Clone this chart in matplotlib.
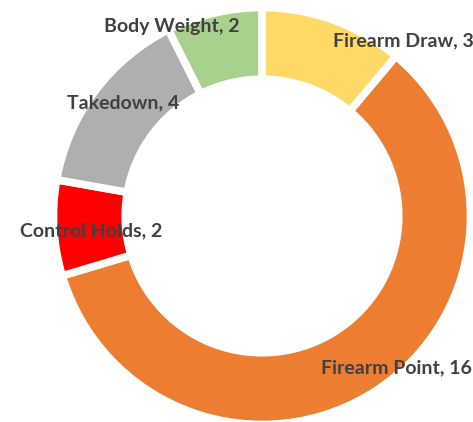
import matplotlib.pyplot as plt

categorias = ['Firearm Draw', 'Firearm Point', 'Control Holds', 'Takedown', 'Body Weight']
valores = [3, 16, 2, 4, 2]
colores = ['#FFD966', '#ED7D31', '#FF0000', '#AFAFAF', '#A9D18E']

# donde va cada etiqueta (coordenadas del eje, radio 1)
pos_etiquetas = [(0.688, 0.854), (0.654, -0.741), (-0.834, -0.073),
                 (-0.678, 0.551), (-0.439, 0.922)]

fig = plt.figure(figsize=(4.73, 4.22), dpi=100)
ax = fig.add_axes([57 / 473, 1 / 422, 410 / 473, 410 / 422])

# el borde blanco se come un poco del anillo, por eso radio algo mayor que 1
ax.pie(valores, colors=colores, startangle=90, counterclock=False, radius=1.017,
       wedgeprops=dict(width=0.35, edgecolor='white', linewidth=5.5))

for cat, val, (x, y) in zip(categorias, valores, pos_etiquetas):
    ax.text(x, y, f'{cat}, {val}', ha='center', va='center', fontsize=14,
            fontweight='bold', color='#404040', family='Lato', clip_on=False)

ax.set_xlim(-1, 1)
ax.set_ylim(-1, 1)
ax.set_aspect('auto')
ax.axis('off')

fig.savefig('out.png', dpi=100)
